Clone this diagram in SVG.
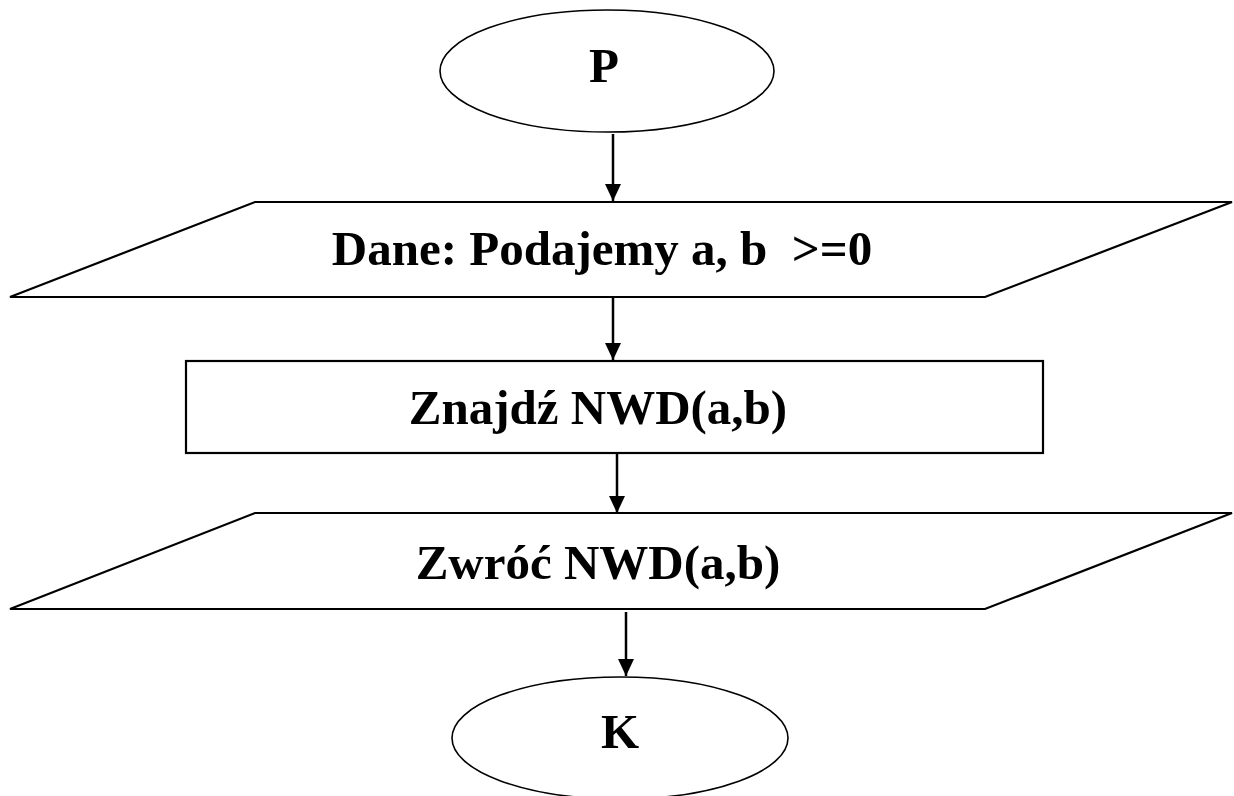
<svg xmlns="http://www.w3.org/2000/svg" width="1234" height="796" viewBox="0 0 1234 796">
  <style>
    .shape { fill: #ffffff; stroke: #000000; stroke-width: 2.2; }
    .term { fill: #ffffff; stroke: #000000; stroke-width: 1.6; }
    .label { font-family: "Liberation Serif", "Times New Roman", serif; font-weight: bold; font-size: 49px; fill: #000000; text-anchor: middle; }
    .flow { stroke: #000000; stroke-width: 2.5; fill: none; marker-end: url(#head); }
  </style>
  <defs>
    <!-- filled triangular arrowhead, tip at the line end -->
    <marker id="head" markerWidth="17" markerHeight="16" refX="17" refY="8" orient="auto" markerUnits="userSpaceOnUse" viewBox="0 0 17 16">
      <path d="M0,0 L17,8 L0,16 Z" fill="#000000"/>
    </marker>
  </defs>
  <rect width="1234" height="796" fill="#ffffff"/>

  <g id="connectors">
    <line class="flow" x1="613" y1="134" x2="613" y2="201"/>
    <line class="flow" x1="613" y1="298" x2="613" y2="360"/>
    <line class="flow" x1="617" y1="454" x2="617" y2="513"/>
    <line class="flow" x1="626" y1="612" x2="626" y2="676"/>
  </g>

  <g id="start">
    <ellipse class="term" cx="607" cy="71" rx="167" ry="61"/>
    <text class="label" x="604" y="82">P</text>
  </g>

  <g id="input">
    <polygon class="shape" points="255,202 1232,202 985,297 10,297"/>
    <text class="label" x="602" y="265" xml:space="preserve">Dane: Podajemy a, b  &gt;=0</text>
  </g>

  <g id="process">
    <rect class="shape" x="186" y="361" width="857" height="92"/>
    <text class="label" x="598" y="424">Znajdź NWD(a,b)</text>
  </g>

  <g id="output">
    <polygon class="shape" points="255,513 1232,513 985,609 10,609"/>
    <text class="label" x="598" y="579">Zwróć NWD(a,b)</text>
  </g>

  <g id="end">
    <ellipse class="term" cx="620" cy="738" rx="168" ry="61"/>
    <text class="label" x="620" y="748">K</text>
  </g>
</svg>
